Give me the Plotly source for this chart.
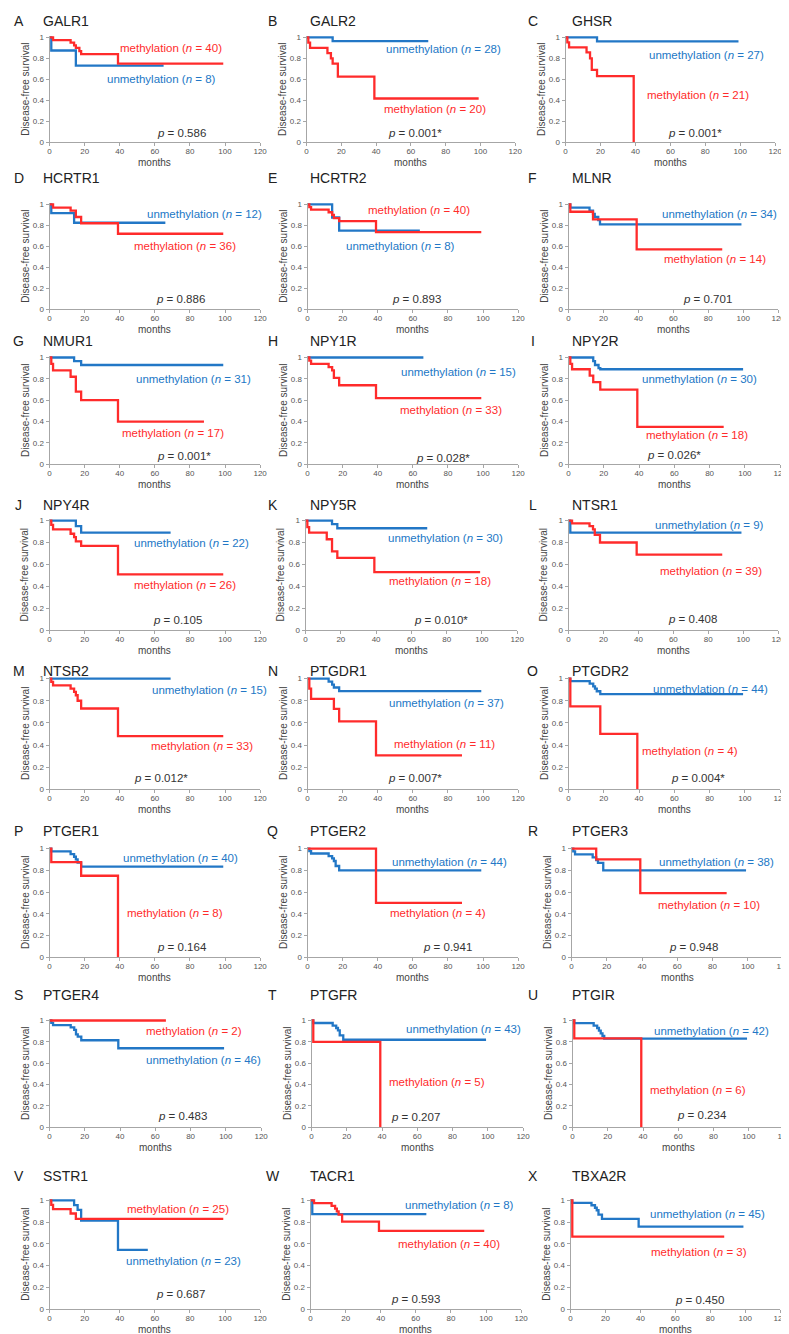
import plotly.graph_objects as go

# ---------------- data ----------------
GENES = ["GALR1", "GALR2", "GHSR", "HCRTR1", "HCRTR2", "MLNR", "NMUR1", "NPY1R",
         "NPY2R", "NPY4R", "NPY5R", "NTSR1", "NTSR2", "PTGDR1", "PTGDR2", "PTGER1",
         "PTGER2", "PTGER3", "PTGER4", "PTGFR", "PTGIR", "SSTR1", "TACR1", "TBXA2R"]
LETTERS = list("ABCDEFGHIJKLMNOPQRSTUVWX")
N_METH = [40, 20, 21, 36, 40, 14, 17, 33, 18, 26, 18, 39, 33, 11, 4, 8, 4, 10, 2, 5, 6, 25, 40, 3]
N_UNMETH = [8, 28, 27, 12, 8, 34, 31, 15, 30, 22, 30, 9, 15, 37, 44, 40, 44, 38, 46, 43, 42, 23, 8, 45]
P_VALUES = ["0.586", "0.001*", "0.001*", "0.886", "0.893", "0.701", "0.001*", "0.028*",
            "0.026*", "0.105", "0.010*", "0.408", "0.012*", "0.007*", "0.004*", "0.164",
            "0.941", "0.948", "0.483", "0.207", "0.234", "0.687", "0.593", "0.450"]
X_TICKS = [0, 20, 40, 60, 80, 100, 120]
Y_TICKS = [0, 0.2, 0.4, 0.6, 0.8, 1]
Y_TICK_TEXT = ["0", "0.2", "0.4", "0.6", "0.8", "1"]

# Kaplan-Meier step curves: (months, survival)
GALR1_METH = [(0, 1), (2, 0.975), (12, 0.95), (14, 0.925), (15, 0.9), (17, 0.87), (18, 0.84), (39, 0.75), (99, 0.75)]
GALR1_UNMETH = [(0, 1), (1, 0.875), (15, 0.73), (65, 0.73)]
GALR2_METH = [(0, 1), (1, 0.95), (2, 0.9), (12, 0.85), (14, 0.8), (15, 0.75), (18, 0.625), (39, 0.417), (99, 0.417)]
GALR2_UNMETH = [(0, 1), (15, 0.964), (70, 0.964)]
GHSR_METH = [(0, 1), (1, 0.952), (2, 0.905), (12, 0.857), (14, 0.8), (15, 0.69), (18, 0.63), (39, 0)]
GHSR_UNMETH = [(0, 1), (18, 0.963), (99, 0.963)]
HCRTR1_METH = [(0, 1), (2, 0.97), (12, 0.94), (15, 0.88), (18, 0.82), (39, 0.72), (99, 0.72)]
HCRTR1_UNMETH = [(0, 1), (1, 0.917), (14, 0.825), (66, 0.825)]
HCRTR2_METH = [(0, 1), (1, 0.975), (2, 0.95), (12, 0.925), (14, 0.9), (15, 0.87), (18, 0.84), (39, 0.735), (99, 0.735)]
HCRTR2_UNMETH = [(0, 1), (14, 0.875), (18, 0.75), (64, 0.75)]
MLNR_METH = [(0, 1), (1, 0.93), (14, 0.857), (39, 0.57), (88, 0.57)]
MLNR_UNMETH = [(0, 1), (1, 0.97), (12, 0.94), (14, 0.91), (15, 0.88), (17, 0.85), (18, 0.81), (99, 0.81)]
NMUR1_METH = [(0, 1), (1, 0.94), (2, 0.88), (12, 0.82), (15, 0.68), (18, 0.6), (39, 0.4), (88, 0.4)]
NMUR1_UNMETH = [(0, 1), (14, 0.967), (18, 0.93), (99, 0.93)]
NPY1R_METH = [(0, 1), (1, 0.97), (2, 0.94), (12, 0.91), (14, 0.88), (15, 0.81), (18, 0.74), (39, 0.62), (99, 0.62)]
NPY1R_UNMETH = [(0, 1), (66, 1)]
NPY2R_METH = [(0, 1), (1, 0.94), (2, 0.89), (12, 0.83), (14, 0.77), (18, 0.7), (39, 0.35), (88, 0.35)]
NPY2R_UNMETH = [(0, 1), (14, 0.967), (15, 0.93), (17, 0.9), (18, 0.89), (99, 0.89)]
NPY4R_METH = [(0, 1), (1, 0.96), (2, 0.92), (12, 0.88), (14, 0.85), (15, 0.81), (18, 0.77), (39, 0.51), (99, 0.51)]
NPY4R_UNMETH = [(0, 1), (15, 0.95), (18, 0.89), (69, 0.89)]
NPY5R_METH = [(0, 1), (1, 0.94), (2, 0.89), (12, 0.83), (15, 0.72), (18, 0.66), (39, 0.53), (99, 0.53)]
NPY5R_UNMETH = [(0, 1), (15, 0.967), (18, 0.93), (69, 0.93)]
NTSR1_METH = [(0, 1), (2, 0.974), (12, 0.95), (14, 0.92), (15, 0.87), (18, 0.8), (39, 0.69), (88, 0.69)]
NTSR1_UNMETH = [(0, 1), (1, 0.89), (99, 0.89)]
NTSR2_METH = [(0, 1), (1, 0.97), (2, 0.94), (12, 0.91), (14, 0.88), (15, 0.85), (16, 0.8), (18, 0.73), (39, 0.48), (99, 0.48)]
NTSR2_UNMETH = [(0, 1), (69, 1)]
PTGDR1_METH = [(0, 1), (1, 0.909), (2, 0.818), (15, 0.727), (18, 0.614), (39, 0.307), (88, 0.307)]
PTGDR1_UNMETH = [(0, 1), (12, 0.973), (14, 0.946), (15, 0.92), (18, 0.887), (99, 0.887)]
PTGDR2_METH = [(0, 1), (1, 0.75), (18, 0.5), (39, 0)]
PTGDR2_UNMETH = [(0, 1), (1, 0.977), (12, 0.955), (14, 0.93), (15, 0.91), (16, 0.886), (18, 0.86), (99, 0.86)]
PTGER1_METH = [(0, 1), (1, 0.875), (18, 0.75), (39, 0)]
PTGER1_UNMETH = [(0, 1), (1, 0.975), (12, 0.95), (14, 0.925), (15, 0.9), (16, 0.87), (18, 0.835), (99, 0.835)]
PTGER2_METH = [(0, 1), (39, 0.5), (88, 0.5)]
PTGER2_UNMETH = [(0, 1), (1, 0.977), (2, 0.955), (12, 0.93), (14, 0.91), (15, 0.886), (16, 0.84), (18, 0.8), (99, 0.8)]
PTGER3_METH = [(0, 1), (14, 0.9), (39, 0.59), (88, 0.59)]
PTGER3_UNMETH = [(0, 1), (1, 0.974), (2, 0.947), (12, 0.92), (14, 0.895), (15, 0.868), (18, 0.8), (99, 0.8)]
PTGER4_METH = [(0, 1), (66, 1)]
PTGER4_UNMETH = [(0, 1), (1, 0.978), (2, 0.957), (12, 0.935), (14, 0.913), (15, 0.87), (16, 0.85), (18, 0.815), (39, 0.74), (99, 0.74)]
PTGFR_METH = [(0, 1), (1, 0.8), (39, 0)]
PTGFR_UNMETH = [(0, 1), (1, 0.977), (12, 0.953), (14, 0.93), (15, 0.907), (16, 0.86), (18, 0.82), (99, 0.82)]
PTGIR_METH = [(0, 1), (1, 0.833), (39, 0)]
PTGIR_UNMETH = [(0, 1), (1, 0.976), (12, 0.952), (14, 0.93), (15, 0.905), (16, 0.88), (17, 0.857), (18, 0.83), (99, 0.83)]
SSTR1_METH = [(0, 1), (1, 0.96), (2, 0.92), (12, 0.88), (15, 0.83), (99, 0.83)]
SSTR1_UNMETH = [(0, 1), (14, 0.957), (16, 0.913), (18, 0.815), (39, 0.545), (56, 0.545)]
TACR1_METH = [(0, 1), (2, 0.975), (12, 0.95), (14, 0.925), (15, 0.9), (16, 0.87), (18, 0.805), (39, 0.72), (99, 0.72)]
TACR1_UNMETH = [(0, 1), (1, 0.875), (66, 0.875)]
TBXA2R_METH = [(0, 1), (1, 0.667), (88, 0.667)]
TBXA2R_UNMETH = [(0, 1), (1, 0.978), (12, 0.956), (14, 0.933), (15, 0.91), (16, 0.87), (18, 0.83), (39, 0.76), (99, 0.76)]

METH_CURVES = [GALR1_METH, GALR2_METH, GHSR_METH, HCRTR1_METH, HCRTR2_METH, MLNR_METH,
               NMUR1_METH, NPY1R_METH, NPY2R_METH, NPY4R_METH, NPY5R_METH, NTSR1_METH,
               NTSR2_METH, PTGDR1_METH, PTGDR2_METH, PTGER1_METH, PTGER2_METH, PTGER3_METH,
               PTGER4_METH, PTGFR_METH, PTGIR_METH, SSTR1_METH, TACR1_METH, TBXA2R_METH]
UNMETH_CURVES = [GALR1_UNMETH, GALR2_UNMETH, GHSR_UNMETH, HCRTR1_UNMETH, HCRTR2_UNMETH, MLNR_UNMETH,
                 NMUR1_UNMETH, NPY1R_UNMETH, NPY2R_UNMETH, NPY4R_UNMETH, NPY5R_UNMETH, NTSR1_UNMETH,
                 NTSR2_UNMETH, PTGDR1_UNMETH, PTGDR2_UNMETH, PTGER1_UNMETH, PTGER2_UNMETH, PTGER3_UNMETH,
                 PTGER4_UNMETH, PTGFR_UNMETH, PTGIR_UNMETH, SSTR1_UNMETH, TACR1_UNMETH, TBXA2R_UNMETH]

# ---------------- layout (positions, styles) ----------------
W, H = 789, 1334
RED = "#FF2B2B"
BLUE = "#2277C6"
FONT = "Liberation Sans, Arial, sans-serif"

ROW_Y = [(25, 132), (193, 300), (347, 456), (511, 623), (670, 783), (841, 952), (1014, 1123), (1195, 1306)]
TITLE_Y = [10, 168, 332, 497, 664, 825, 990, 1172]
ROW_COLS = [
    [(40, 253), (300, 511), (562, 774)],
    [(40, 253), (301, 514), (565, 777)],
    [(40, 253), (301, 514), (565, 779)],
    [(40, 253), (299, 513), (565, 777)],
    [(40, 253), (301, 514), (565, 779)],
    [(40, 253), (301, 514), (568, 782)],
    [(40, 254), (305, 519), (569, 783)],
    [(40, 253), (304, 517), (567, 779)],
]
LETTER_X = [9, 266, 529]
GENE_X = [31, 301, 566]
# label placement in data coordinates: (methylation, unmethylation, p)
LABEL_POS = [
    ((69, 0.90), (64, 0.60), (75, 0.087)),
    ((74, 0.315), (78.5, 0.885), (62.6, 0.087)),
    ((75.8, 0.449), (80.4, 0.835), (74, 0.087)),
    ((77, 0.60), (88.5, 0.91), (74.4, 0.093)),
    ((63.5, 0.95), (53.2, 0.60), (61.8, 0.10)),
    ((83.8, 0.48), (86.7, 0.91), (79.6, 0.093)),
    ((70.6, 0.29), (82, 0.80), (76.6, 0.075)),
    ((81.7, 0.505), (86, 0.86), (76.9, 0.06)),
    ((73, 0.27), (74, 0.80), (60, 0.085)),
    ((77.4, 0.41), (80.8, 0.80), (73.2, 0.093)),
    ((76.3, 0.45), (79.5, 0.84), (76.8, 0.095)),
    ((81.3, 0.54), (80.6, 0.96), (70.8, 0.10)),
    ((86.6, 0.39), (91.4, 0.90), (63.5, 0.10)),
    ((78.3, 0.405), (79.4, 0.78), (61, 0.10)),
    ((69, 0.35), (80.3, 0.91), (73.2, 0.105)),
    ((71.5, 0.41), (74.4, 0.91), (75.2, 0.095)),
    ((74.6, 0.41), (80.8, 0.88), (79.8, 0.095)),
    ((77.8, 0.48), (82.2, 0.88), (69.4, 0.095)),
    ((82, 0.90), (87.2, 0.63), (75.2, 0.105)),
    ((71.3, 0.42), (86, 0.92), (59.2, 0.10)),
    ((71.4, 0.35), (78.8, 0.905), (73.7, 0.115)),
    ((73.1, 0.92), (76.4, 0.44), (74.6, 0.14)),
    ((78.8, 0.60), (85, 0.96), (59.9, 0.09)),
    ((73.4, 0.525), (78.6, 0.88), (74, 0.08)),
]

fig = go.Figure()
annotations = []
axis_common = dict(showgrid=False, zeroline=False, showline=True, linecolor="#a6a6a6",
                   linewidth=1, ticks="outside", ticklen=3, tickcolor="#a6a6a6",
                   tickfont=dict(family=FONT, size=8, color="#555555"), fixedrange=True)

for i, gene in enumerate(GENES):
    r, c = divmod(i, 3)
    k = i + 1
    sfx = "" if k == 1 else str(k)
    x0, x1 = ROW_COLS[r][c]
    yt, yb = ROW_Y[r]
    fig.update_layout(**{
        f"xaxis{sfx}": dict(axis_common, domain=[x0 / W, x1 / W], anchor=f"y{sfx}",
                            range=[0, 120], tickvals=X_TICKS, ticklabelstandoff=-2),
        f"yaxis{sfx}": dict(axis_common, domain=[1 - yb / H, 1 - yt / H], anchor=f"x{sfx}",
                            range=[0, 1.015], tickvals=Y_TICKS, ticktext=Y_TICK_TEXT),
    })
    for curve, color in ((UNMETH_CURVES[i], BLUE), (METH_CURVES[i], RED)):
        fig.add_trace(go.Scatter(
            x=[p[0] for p in curve], y=[p[1] for p in curve], mode="lines",
            line=dict(color=color, width=2.3, shape="hv"),
            xaxis=f"x{sfx}", yaxis=f"y{sfx}", showlegend=False, hoverinfo="skip"))

    (mx, my), (ux, uy), (px, py) = LABEL_POS[i]
    xr, yr = f"x{sfx}", f"y{sfx}"
    annotations += [
        dict(x=mx, y=my, xref=xr, yref=yr, showarrow=False,
             text=f"methylation (<i>n</i> = {N_METH[i]})",
             font=dict(family=FONT, size=11.5, color=RED)),
        dict(x=ux, y=uy, xref=xr, yref=yr, showarrow=False,
             text=f"unmethylation (<i>n</i> = {N_UNMETH[i]})",
             font=dict(family=FONT, size=11.5, color=BLUE)),
        dict(x=px, y=py, xref=xr, yref=yr, showarrow=False,
             text=f"<i>p</i> = {P_VALUES[i]}",
             font=dict(family=FONT, size=11.5, color="#333333")),
        # panel letter and gene title
        dict(x=LETTER_X[c] / W, y=1 - TITLE_Y[r] / H, xref="paper", yref="paper",
             showarrow=False, xanchor="center", yanchor="middle", text=LETTERS[i],
             font=dict(family=FONT, size=14, color="#222222")),
        dict(x=GENE_X[c] / W, y=1 - TITLE_Y[r] / H, xref="paper", yref="paper",
             showarrow=False, xanchor="left", yanchor="middle", text=gene,
             font=dict(family=FONT, size=14, color="#222222")),
        # axis titles
        dict(x=(x0 - 25) / W, y=1 - ((yt + yb) / 2) / H, xref="paper", yref="paper",
             showarrow=False, textangle=-90, xanchor="center", yanchor="middle",
             text="Disease-free survival", font=dict(family=FONT, size=10, color="#444444")),
        dict(x=((x0 + x1) / 2) / W, y=1 - (yb + 20) / H, xref="paper", yref="paper",
             showarrow=False, xanchor="center", yanchor="middle",
             text="months", font=dict(family=FONT, size=10, color="#444444")),
    ]

fig.update_layout(width=W, height=H, autosize=False,
                  margin=dict(l=0, r=0, t=0, b=0),
                  paper_bgcolor="white", plot_bgcolor="white",
                  annotations=annotations, showlegend=False)

fig.write_html("out.html")
